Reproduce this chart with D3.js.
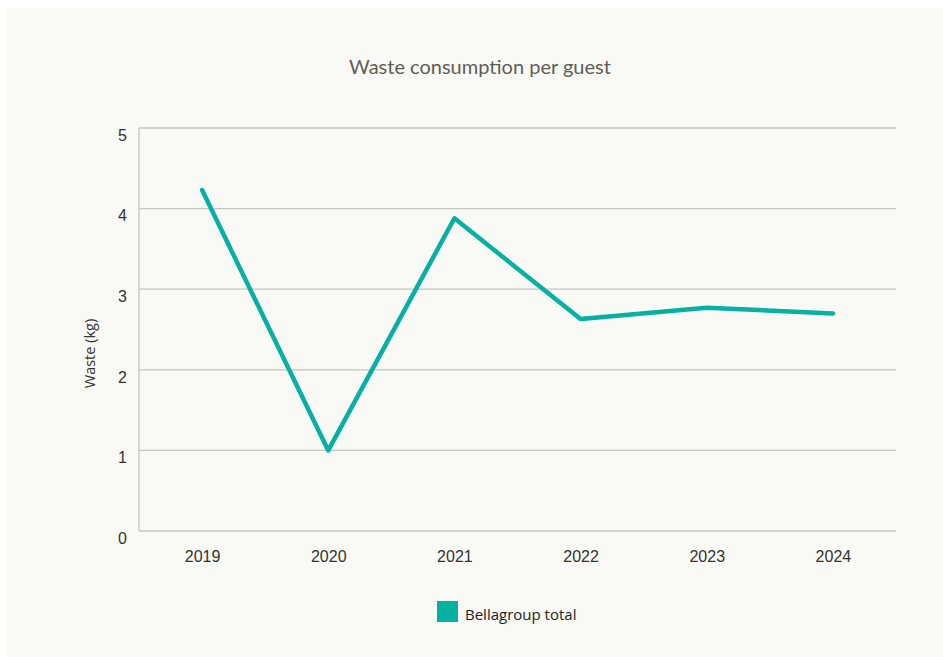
<!DOCTYPE html>
<html>
<head>
<meta charset="utf-8">
<script src="https://cdn.jsdelivr.net/npm/d3@7"></script>
<style>
  html, body { margin: 0; padding: 0; background: #ffffff; }
  svg { display: block; }
</style>
</head>
<body>
<svg id="chart" width="943" height="657"></svg>
<script>
// Waste per guest, Bellagroup total (kg)
const years = ["2019", "2020", "2021", "2022", "2023", "2024"];
const wasteKg = [4.23, 1.0, 3.88, 2.63, 2.77, 2.70];
const yTicks = [0, 1, 2, 3, 4, 5];
const seriesName = "Bellagroup total";
const chartTitle = "Waste consumption per guest";
const yAxisTitle = "Waste (kg)";

const W = 943, H = 657;
const margin = { left: 139, right: 47, top: 128, bottom: 126 };
const teal = "#06b0a2";

const svg = d3.select("#chart");

// panel background
svg.append("rect")
  .attr("x", 6).attr("y", 8)
  .attr("width", W - 6).attr("height", H - 8)
  .attr("fill", "#f9f9f5");

const x = d3.scalePoint()
  .domain(years)
  .range([margin.left, W - margin.right])
  .padding(0.5);

const y = d3.scaleLinear()
  .domain([0, 5])
  .range([H - margin.bottom, margin.top]);

// horizontal gridlines
svg.append("g")
  .selectAll("line")
  .data(yTicks.filter(t => t > 0))
  .join("line")
  .attr("x1", margin.left).attr("x2", W - margin.right)
  .attr("y1", d => y(d)).attr("y2", d => y(d))
  .attr("stroke", "#c6c6c0").attr("stroke-width", 1.3);

// axis lines
svg.append("line")
  .attr("x1", margin.left).attr("x2", margin.left)
  .attr("y1", y(5)).attr("y2", y(0))
  .attr("stroke", "#c6c6c0").attr("stroke-width", 1.3);
svg.append("line")
  .attr("x1", margin.left).attr("x2", W - margin.right)
  .attr("y1", y(0)).attr("y2", y(0))
  .attr("stroke", "#c6c6c0").attr("stroke-width", 1.3);

// y tick labels
const yAxis = svg.append("g")
  .attr("transform", `translate(${margin.left},0)`)
  .call(d3.axisLeft(y).tickValues(yTicks).tickSize(0).tickPadding(12).tickFormat(d3.format("d")));
yAxis.select(".domain").remove();
yAxis.selectAll("text")
  .attr("dy", "0.95em")
  .attr("y", -3)
  .attr("font-family", "Liberation Sans, Arial, sans-serif")
  .attr("font-size", 16)
  .attr("fill", "#333330");

// x tick labels
const xAxis = svg.append("g")
  .attr("transform", `translate(0,${y(0)})`)
  .call(d3.axisBottom(x).tickSize(0).tickPadding(20));
xAxis.select(".domain").remove();
xAxis.selectAll("text")
  .attr("font-family", "Liberation Sans, Arial, sans-serif")
  .attr("font-size", 16)
  .attr("fill", "#333330");

// title
svg.append("text")
  .attr("x", 480).attr("y", 74)
  .attr("text-anchor", "middle")
  .attr("font-family", "Lato, sans-serif")
  .attr("font-size", 20)
  .attr("fill", "#5e5e55")
  .text(chartTitle);

// y axis title
svg.append("text")
  .attr("transform", `translate(95,${(y(0) + y(5)) / 2 + 24}) rotate(-90)`)
  .attr("text-anchor", "middle")
  .attr("font-family", "Open Sans, sans-serif")
  .attr("font-size", 14.5)
  .attr("fill", "#333330")
  .text(yAxisTitle);

// series line
const line = d3.line()
  .x((d, i) => x(years[i]))
  .y(d => y(d));

svg.append("path")
  .datum(wasteKg)
  .attr("d", line)
  .attr("fill", "none")
  .attr("stroke", teal)
  .attr("stroke-width", 4.5)
  .attr("stroke-linejoin", "round")
  .attr("stroke-linecap", "round");

// legend
const lg = svg.append("g").attr("transform", "translate(437,601)");
lg.append("rect")
  .attr("width", 21).attr("height", 21)
  .attr("fill", teal);
lg.append("text")
  .attr("x", 28).attr("y", 19)
  .attr("font-family", "Open Sans, sans-serif")
  .attr("font-size", 15)
  .attr("fill", "#222222")
  .text(seriesName);
</script>
</body>
</html>
